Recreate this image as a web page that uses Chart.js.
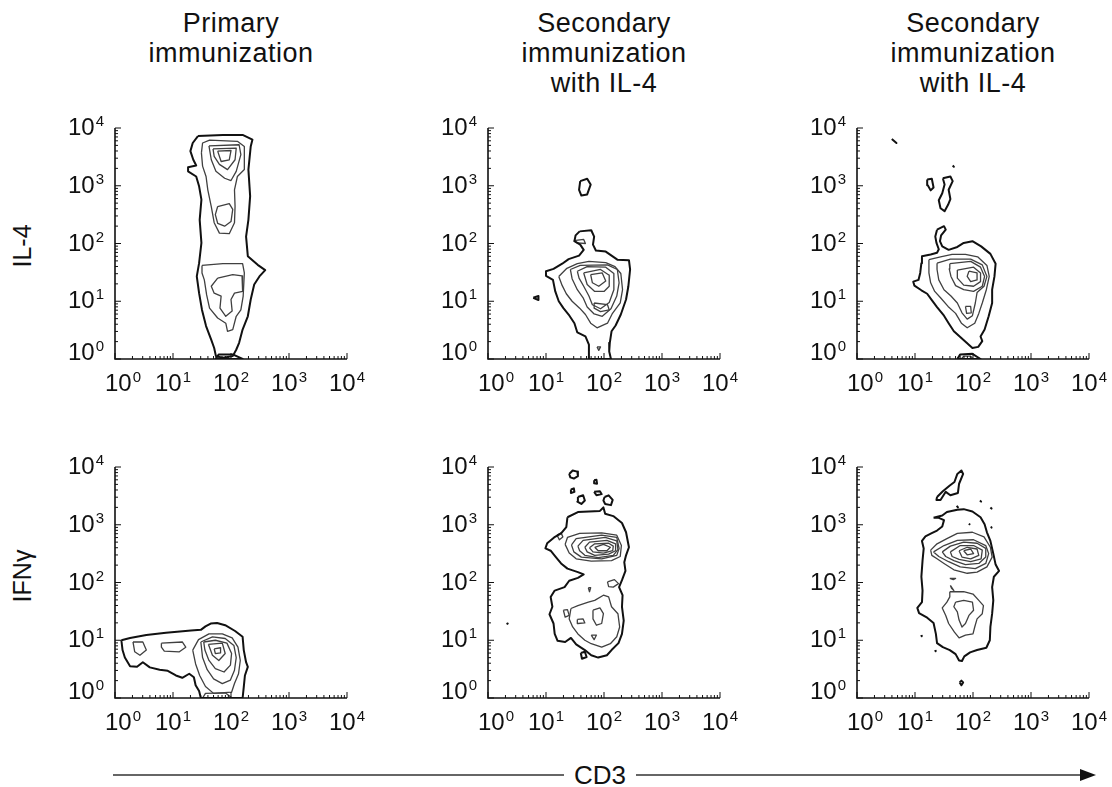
<!DOCTYPE html>
<html lang="en">
<head>
<meta charset="UTF-8" />
<title>CD3 vs IL-4 / IFNγ contour plots</title>
<script src="https://cdn.jsdelivr.net/npm/chart.js"></script>
<style>
  body { margin: 0; background: #fff; font-family: 'Liberation Sans', Arial, sans-serif; color: #111; }
  #fig { position: relative; width: 1112px; height: 787px; overflow: hidden; }
  #fig canvas { position: absolute; }
  .title { position: absolute; width: 280px; text-align: center; font-size: 27px; line-height: 30px; letter-spacing: 0.5px; }
  .rowlab { position: absolute; font-size: 25px; transform: translate(-50%, -50%) rotate(-90deg); white-space: nowrap; }
  #cd3 { position: absolute; left: 600px; top: 775px; transform: translate(-50%, -50%); font-size: 26px; background: #fff; padding: 0 10px; }
  svg { position: absolute; left: 0; top: 0; }
</style>
</head>
<body>
<div id="fig">
  <svg width="1112" height="787">
    <line x1="113" y1="775" x2="1082" y2="775" stroke="#333" stroke-width="1.6" />
    <polygon points="1096,775 1080,769 1080,781" fill="#111" />
  </svg>
  <div id="cd3">CD3</div>
</div>

<script>
  // axis decades (log10), the same on both axes of every panel
  const decades = [0, 1, 2, 3, 4];
  const titles = [['Primary', 'immunization'], ['Secondary', 'immunization', 'with IL-4'], ['Secondary', 'immunization', 'with IL-4']];
  const rowLabels = ['IL-4', 'IFNγ'];
  const xLabel = 'CD3';

  // contours as [log10 CD3, log10 cytokine] pairs
  const il4PrimaryOuter = [
    [[1.43,3.86],[1.86,3.88],[2.20,3.88],[2.37,3.80],[2.34,3.68],[2.30,3.28],[2.33,2.82],[2.30,2.41],[2.26,2.12],[2.29,1.78],[2.46,1.63],[2.59,1.54],[2.49,1.43],[2.40,1.29],[2.34,1.03],[2.29,0.74],[2.20,0.51],[2.14,0.28],[2.09,0.16],[2.03,0.05],[1.86,0.02],[1.74,0.05],[1.71,0.19],[1.66,0.33],[1.57,0.57],[1.50,0.85],[1.45,1.14],[1.41,1.43],[1.45,1.66],[1.49,2.01],[1.46,2.41],[1.49,2.76],[1.45,2.99],[1.40,3.16],[1.26,3.25],[1.26,3.32],[1.40,3.35],[1.35,3.45],[1.30,3.60],[1.34,3.74]],
    [[1.73,0],[1.79,0.08],[2.03,0.08],[2.20,0]]
  ];
  const il4PrimaryInner = [
    [[1.49,3.57],[1.51,3.74],[1.63,3.79],[2.11,3.77],[2.23,3.68],[2.23,3.28],[2.11,3.16],[2.06,2.93],[2.07,2.64],[2.06,2.36],[1.97,2.17],[1.80,2.18],[1.71,2.36],[1.66,2.64],[1.60,2.93],[1.57,3.16],[1.51,3.34]],
    [[1.50,1.62],[1.86,1.65],[2.20,1.65],[2.23,1.49],[2.21,1.09],[2.17,0.85],[2.09,0.74],[2.03,0.51],[1.94,0.48],[1.91,0.62],[1.77,0.71],[1.63,0.88],[1.58,1.11],[1.54,1.37],[1.50,1.49]],
    [[1.62,3.69],[2.14,3.71],[2.17,3.54],[2.09,3.25],[2.00,3.09],[1.89,3.13],[1.74,3.25],[1.66,3.45]],
    [[1.77,2.64],[1.97,2.69],[2.03,2.59],[2.00,2.38],[1.89,2.30],[1.77,2.35],[1.73,2.50]],
    [[1.77,1.40],[2.03,1.46],[2.19,1.44],[2.20,1.17],[2.06,1.14],[2.00,1.03],[2.02,0.83],[1.91,0.74],[1.81,0.88],[1.83,1.09],[1.71,1.14],[1.66,1.26]],
    [[1.69,3.64],[2.09,3.65],[2.07,3.45],[1.94,3.28],[1.80,3.37],[1.71,3.51]],
    [[1.77,3.60],[2.00,3.61],[1.97,3.45],[1.83,3.42]]
  ];

  const il4SecondaryOuter = [
    [[1.58,2.21],[1.78,2.23],[1.83,2.12],[1.81,1.98],[1.86,1.88],[2.03,1.86],[2.23,1.72],[2.43,1.71],[2.45,1.55],[2.42,1.26],[2.38,1.03],[2.29,0.77],[2.20,0.58],[2.13,0.48],[2.10,0.28],[2.09,0.13],[2.12,0],[1.74,0],[1.74,0.25],[1.68,0.39],[1.54,0.46],[1.49,0.62],[1.39,0.77],[1.30,0.88],[1.22,1.00],[1.16,1.17],[1.12,1.37],[1.00,1.44],[1.00,1.52],[1.13,1.56],[1.28,1.65],[1.39,1.73],[1.57,1.79],[1.65,1.89],[1.59,1.98],[1.49,2.04],[1.51,2.14]],
    [[1.59,3.08],[1.71,3.12],[1.77,3.02],[1.71,2.85],[1.61,2.83],[1.57,2.93]],
    [[0.78,1.06],[0.87,1.09],[0.87,1.02]]
  ];
  const il4SecondaryInner = [
    [[1.48,2.05],[1.65,2.07],[1.68,2.00],[1.54,2.01]],
    [[1.22,1.43],[1.36,1.57],[1.54,1.65],[1.74,1.69],[2.03,1.67],[2.19,1.60],[2.29,1.48],[2.32,1.20],[2.28,0.97],[2.14,0.78],[2.06,0.62],[1.88,0.54],[1.77,0.62],[1.68,0.77],[1.58,0.88],[1.45,1.00],[1.35,1.13],[1.28,1.27]],
    [[1.42,1.55],[1.59,1.62],[2.06,1.63],[2.23,1.55],[2.26,1.32],[2.22,1.09],[2.12,0.87],[1.97,0.74],[1.83,0.78],[1.71,0.90],[1.64,1.06],[1.54,1.20],[1.45,1.39]],
    [[1.54,1.52],[1.71,1.60],[2.03,1.59],[2.17,1.48],[2.17,1.20],[2.09,0.98],[1.94,0.87],[1.80,0.94],[1.74,1.09],[1.65,1.26],[1.57,1.40]],
    [[1.65,1.49],[1.94,1.55],[2.09,1.45],[2.09,1.26],[2.00,1.17],[1.84,1.17],[1.71,1.29]],
    [[1.77,1.46],[1.97,1.49],[2.03,1.35],[1.91,1.26],[1.80,1.32]],
    [[1.83,0.97],[2.06,0.94],[2.09,0.85],[1.94,0.82],[1.83,0.88]],
    [[1.88,0.21],[1.94,0.21],[1.91,0.15]]
  ];

  const il4RepeatOuter = [
    [[1.38,2.24],[1.50,2.30],[1.53,2.24],[1.45,2.14],[1.43,2.04],[1.47,1.95],[1.58,1.89],[1.73,1.94],[1.84,2.01],[1.99,2.04],[2.14,1.95],[2.30,1.82],[2.39,1.65],[2.37,1.43],[2.33,1.20],[2.33,0.97],[2.27,0.74],[2.20,0.51],[2.13,0.39],[2.16,0.31],[2.09,0.21],[1.99,0.19],[1.89,0.28],[1.78,0.38],[1.67,0.48],[1.58,0.62],[1.50,0.75],[1.38,0.90],[1.29,1.02],[1.21,1.13],[1.11,1.19],[0.99,1.27],[0.97,1.34],[1.06,1.37],[1.09,1.49],[1.11,1.66],[1.12,1.78],[1.27,1.81],[1.38,1.84],[1.41,1.90],[1.37,2.01],[1.35,2.12]],
    [[1.48,3.13],[1.61,3.16],[1.65,3.08],[1.58,2.93],[1.61,2.77],[1.57,2.67],[1.51,2.56],[1.44,2.61],[1.41,2.75],[1.47,2.87],[1.51,3.02]],
    [[1.21,3.11],[1.29,3.12],[1.32,2.97],[1.27,2.92],[1.22,3.01]],
    [[0.60,3.81],[0.68,3.74]],
    [[1.65,3.35],[1.67,3.33]],
    [[1.73,0],[1.78,0.08],[1.99,0.09],[2.13,0]]
  ];
  const il4RepeatInner = [
    [[1.24,1.72],[1.44,1.77],[1.64,1.81],[1.87,1.81],[2.08,1.77],[2.24,1.62],[2.28,1.43],[2.23,1.20],[2.16,0.97],[2.10,0.79],[2.03,0.62],[1.90,0.54],[1.80,0.62],[1.70,0.79],[1.57,0.91],[1.44,1.06],[1.34,1.17],[1.27,1.32],[1.24,1.49]],
    [[1.38,1.66],[1.61,1.73],[1.96,1.73],[2.16,1.63],[2.24,1.43],[2.19,1.26],[2.07,1.15],[2.04,0.97],[1.99,0.75],[1.90,0.69],[1.81,0.80],[1.73,0.97],[1.62,1.09],[1.50,1.20],[1.41,1.37],[1.38,1.55]],
    [[1.60,1.65],[1.96,1.69],[2.13,1.59],[2.20,1.43],[2.16,1.26],[2.01,1.17],[1.84,1.20],[1.70,1.27],[1.62,1.43],[1.59,1.56]],
    [[1.73,1.54],[2.01,1.59],[2.13,1.49],[2.13,1.34],[2.01,1.26],[1.84,1.28],[1.73,1.40]],
    [[1.93,1.52],[2.07,1.49],[2.07,1.37],[1.96,1.34],[1.90,1.43]],
    [[1.87,0.91],[1.96,0.91],[1.97,0.80],[1.89,0.79]],
    [[1.80,0],[1.84,0.05],[1.96,0.05],[2.00,0]]
  ];

  const ifnPrimaryOuter = [
    [[0.11,1.00],[0.26,1.04],[0.54,1.09],[0.88,1.13],[1.31,1.17],[1.48,1.18],[1.56,1.24],[1.65,1.29],[1.76,1.30],[1.90,1.26],[2.07,1.16],[2.20,1.06],[2.22,0.83],[2.26,0.62],[2.29,0.54],[2.24,0.39],[2.22,0.19],[2.20,0],[1.48,0],[1.45,0.12],[1.39,0.22],[1.36,0.36],[1.28,0.42],[1.16,0.35],[1.05,0.39],[0.91,0.47],[0.77,0.49],[0.60,0.53],[0.48,0.62],[0.38,0.54],[0.26,0.55],[0.17,0.70],[0.13,0.83]]
  ];
  const ifnPrimaryInner = [
    [[0.31,0.97],[0.48,0.97],[0.54,0.83],[0.43,0.74],[0.34,0.80]],
    [[0.80,0.95],[1.16,0.97],[1.22,0.88],[1.11,0.80],[0.85,0.81],[0.80,0.88]],
    [[1.34,0.83],[1.44,1.01],[1.62,1.11],[1.85,1.11],[2.02,1.04],[2.12,0.88],[2.16,0.65],[2.13,0.42],[2.06,0.25],[2.01,0.10],[1.70,0.08],[1.56,0.20],[1.46,0.39],[1.39,0.59]],
    [[1.48,0.97],[1.68,1.06],[1.90,1.03],[2.05,0.91],[2.09,0.70],[2.06,0.48],[1.99,0.31],[1.85,0.25],[1.70,0.33],[1.59,0.49],[1.51,0.70]],
    [[1.53,0.97],[1.73,1.00],[1.93,0.95],[2.01,0.77],[1.99,0.57],[1.88,0.45],[1.73,0.51],[1.62,0.65],[1.55,0.83]],
    [[1.61,0.93],[1.85,0.95],[1.90,0.77],[1.79,0.65],[1.68,0.74]],
    [[1.71,0.85],[1.82,0.87],[1.82,0.78],[1.73,0.77]],
    [[1.51,0],[1.56,0.08],[1.90,0.09],[2.02,0]]
  ];

  const ifnSecondaryOuter = [
    [[1.37,3.13],[1.55,3.22],[1.93,3.24],[1.99,3.30],[2.02,3.19],[2.16,3.15],[2.31,3.03],[2.38,2.87],[2.43,2.61],[2.38,2.47],[2.35,2.35],[2.37,2.20],[2.31,2.04],[2.26,1.92],[2.32,1.78],[2.31,1.58],[2.34,1.34],[2.31,1.11],[2.25,0.95],[2.13,0.83],[2.05,0.74],[1.90,0.70],[1.78,0.74],[1.67,0.83],[1.52,0.93],[1.43,1.04],[1.33,0.97],[1.20,0.99],[1.15,1.11],[1.13,1.29],[1.06,1.45],[1.11,1.58],[1.08,1.75],[1.15,1.86],[1.32,1.92],[1.40,2.03],[1.55,2.08],[1.65,2.14],[1.55,2.18],[1.37,2.24],[1.26,2.33],[1.17,2.44],[1.08,2.55],[0.99,2.59],[1.02,2.68],[1.14,2.78],[1.26,2.85],[1.35,2.96]],
    [[1.40,3.88],[1.46,3.94],[1.54,3.92],[1.55,3.84],[1.48,3.80],[1.42,3.82]],
    [[1.43,3.61],[1.48,3.63],[1.49,3.57],[1.43,3.55]],
    [[1.55,3.48],[1.64,3.51],[1.67,3.42],[1.61,3.36],[1.54,3.40]],
    [[1.83,3.77],[1.87,3.78],[1.88,3.71],[1.83,3.72]],
    [[1.83,3.57],[1.93,3.58],[1.96,3.53],[1.87,3.51]],
    [[2.01,3.48],[2.08,3.51],[2.15,3.43],[2.12,3.34],[2.02,3.36],[1.99,3.42]],
    [[1.60,0.78],[1.67,0.80],[1.70,0.71],[1.62,0.68]],
    [[0.32,1.28],[0.34,1.29]]
  ];
  const ifnSecondaryInner = [
    [[1.33,2.66],[1.37,2.78],[1.58,2.85],[1.96,2.86],[2.22,2.82],[2.30,2.64],[2.28,2.45],[2.13,2.38],[1.78,2.37],[1.52,2.41],[1.40,2.51]],
    [[1.44,2.65],[1.52,2.76],[1.96,2.82],[2.22,2.78],[2.26,2.59],[2.22,2.47],[1.96,2.41],[1.61,2.44],[1.48,2.53]],
    [[1.55,2.63],[1.64,2.73],[2.02,2.78],[2.22,2.72],[2.24,2.57],[2.16,2.47],[1.90,2.43],[1.67,2.47],[1.58,2.55]],
    [[1.67,2.61],[1.75,2.70],[2.05,2.73],[2.20,2.67],[2.20,2.55],[2.08,2.49],[1.84,2.47],[1.71,2.53]],
    [[1.75,2.60],[1.84,2.67],[2.08,2.68],[2.16,2.63],[2.15,2.55],[1.99,2.51],[1.81,2.53]],
    [[1.84,2.61],[1.99,2.66],[2.11,2.61],[2.05,2.55],[1.90,2.55]],
    [[1.19,2.82],[1.26,2.86],[1.29,2.79],[1.23,2.74]],
    [[1.43,1.55],[1.55,1.60],[1.73,1.66],[1.84,1.69],[1.99,1.78],[2.08,1.75],[2.13,1.58],[2.24,1.46],[2.27,1.23],[2.22,1.06],[2.11,0.94],[1.96,0.88],[1.78,0.94],[1.67,1.00],[1.55,1.11],[1.46,1.23],[1.40,1.37]],
    [[1.81,1.52],[1.93,1.56],[1.99,1.46],[1.96,1.29],[1.87,1.26],[1.81,1.37]],
    [[1.30,1.52],[1.37,1.53],[1.40,1.43],[1.33,1.40]],
    [[1.54,1.36],[1.64,1.37],[1.67,1.30],[1.55,1.29]],
    [[1.78,1.09],[1.87,1.09],[1.83,1.01]],
    [[1.73,1.91],[1.77,1.91],[1.75,1.84]],
    [[2.06,2.01],[2.18,2.05],[2.25,1.98],[2.16,1.92],[2.08,1.93]]
  ];

  const ifnRepeatOuter = [
    [[1.32,3.12],[1.47,3.16],[1.55,3.22],[1.73,3.26],[1.84,3.27],[1.99,3.23],[2.13,3.13],[2.20,3.01],[2.24,2.87],[2.30,2.72],[2.35,2.50],[2.39,2.31],[2.45,2.20],[2.36,2.10],[2.33,1.92],[2.35,1.69],[2.33,1.46],[2.30,1.23],[2.29,1.00],[2.23,0.87],[2.07,0.83],[1.95,0.79],[1.85,0.72],[1.81,0.64],[1.76,0.65],[1.70,0.76],[1.60,0.83],[1.48,0.88],[1.38,0.95],[1.36,1.11],[1.32,1.30],[1.21,1.39],[1.07,1.47],[1.04,1.56],[1.12,1.66],[1.13,1.86],[1.11,2.10],[1.13,2.38],[1.15,2.59],[1.12,2.72],[1.18,2.80],[1.28,2.85],[1.38,2.90],[1.47,2.97],[1.50,3.08],[1.41,3.12]],
    [[1.38,3.48],[1.48,3.58],[1.60,3.68],[1.68,3.74],[1.73,3.88],[1.80,3.94],[1.83,3.88],[1.76,3.71],[1.74,3.55],[1.61,3.51],[1.53,3.57],[1.44,3.43],[1.37,3.43]],
    [[2.12,3.42],[2.14,3.40]],
    [[2.30,3.30],[2.32,3.28]],
    [[2.31,2.97],[2.32,2.95]],
    [[1.93,3.02],[1.94,3.01]],
    [[1.72,3.33],[1.74,3.30]],
    [[1.11,1.09],[1.12,1.07]],
    [[1.35,0.83],[1.36,0.81]],
    [[1.77,0.27],[1.80,0.30],[1.83,0.27],[1.80,0.22]]
  ];
  const ifnRepeatInner = [
    [[1.27,2.56],[1.38,2.67],[1.55,2.76],[1.73,2.85],[1.99,2.87],[2.19,2.79],[2.30,2.61],[2.33,2.44],[2.24,2.27],[2.07,2.18],[1.90,2.16],[1.67,2.22],[1.50,2.33],[1.38,2.41],[1.29,2.47]],
    [[1.32,2.53],[1.50,2.64],[1.73,2.73],[2.01,2.74],[2.22,2.64],[2.27,2.50],[2.22,2.33],[2.04,2.24],[1.78,2.27],[1.58,2.36],[1.41,2.45]],
    [[1.47,2.53],[1.61,2.63],[1.84,2.70],[2.07,2.68],[2.22,2.59],[2.22,2.44],[2.10,2.33],[1.87,2.31],[1.67,2.38],[1.53,2.45]],
    [[1.61,2.53],[1.78,2.64],[2.01,2.64],[2.16,2.56],[2.14,2.41],[1.96,2.36],[1.76,2.40],[1.64,2.45]],
    [[1.76,2.55],[1.90,2.61],[2.07,2.58],[2.10,2.47],[1.96,2.41],[1.81,2.44]],
    [[1.84,2.55],[1.96,2.58],[2.01,2.50],[1.90,2.48]],
    [[1.60,1.84],[1.84,1.84],[2.00,1.80],[2.10,1.69],[2.18,1.60],[2.16,1.46],[2.07,1.37],[2.03,1.23],[2.00,1.11],[1.87,1.09],[1.76,1.04],[1.68,1.14],[1.58,1.29],[1.53,1.43],[1.47,1.56],[1.55,1.66],[1.60,1.75]],
    [[1.70,1.66],[1.84,1.69],[1.99,1.66],[2.01,1.52],[1.93,1.43],[1.87,1.29],[1.81,1.23],[1.76,1.35],[1.73,1.49],[1.67,1.58]],
    [[1.60,2.07],[1.70,2.07],[1.66,2.05]],
    [[1.61,1.95],[1.67,1.86],[1.63,1.90]]
  ];

  // where each panel's plot box sits on the page
  const PLOT_W = 232, PLOT_H = 231;
  const PAD = { left: 72, top: 20, right: 22, bottom: 45 };
  const panels = [
    { left: 115, top: 128, outer: il4PrimaryOuter, inner: il4PrimaryInner },
    { left: 488, top: 128, outer: il4SecondaryOuter, inner: il4SecondaryInner },
    { left: 857, top: 128, outer: il4RepeatOuter, inner: il4RepeatInner },
    { left: 115, top: 467, outer: ifnPrimaryOuter, inner: ifnPrimaryInner },
    { left: 488, top: 467, outer: ifnSecondaryOuter, inner: ifnSecondaryInner },
    { left: 857, top: 467, outer: ifnRepeatOuter, inner: ifnRepeatInner }
  ];

  const fig = document.getElementById('fig');

  function toPoints(contour) {
    return contour.concat([contour[0]]).map(p => ({ x: Math.pow(10, p[0]), y: Math.pow(10, p[1]) }));
  }

  const BIG = '24px "Liberation Sans", Arial, sans-serif';
  const SMALL = '15px "Liberation Sans", Arial, sans-serif';

  function drawPower(ctx, exp, x, baseline, align) {
    ctx.font = BIG;
    const w10 = ctx.measureText('10').width;
    ctx.font = SMALL;
    const wExp = ctx.measureText(String(exp)).width;
    const total = w10 + 1 + wExp;
    const start = align === 'right' ? x - total : x - total / 2;
    ctx.textAlign = 'left';
    ctx.textBaseline = 'alphabetic';
    ctx.font = BIG;
    ctx.fillText('10', start, baseline);
    ctx.font = SMALL;
    ctx.fillText(String(exp), start + w10 + 1, baseline - 9);
  }

  // axes with inward log ticks and 10^n labels
  const logAxes = {
    id: 'logAxes',
    afterDraw(chart) {
      const { ctx, chartArea: a, scales: { x, y } } = chart;
      ctx.save();
      ctx.strokeStyle = '#111';
      ctx.fillStyle = '#111';
      ctx.lineWidth = 1;
      for (let i = 0; i < decades.length; i++) {
        const k = decades[i];
        const steps = i < decades.length - 1 ? [1, 2, 3, 4, 5, 6, 7, 8, 9] : [1];
        steps.forEach(d => {
          const v = d * Math.pow(10, k);
          const len = d === 1 ? 6 : 3;
          const py = y.getPixelForValue(v);
          const px = x.getPixelForValue(v);
          ctx.beginPath();
          ctx.moveTo(a.left, py); ctx.lineTo(a.left + len, py);
          ctx.moveTo(px, a.bottom); ctx.lineTo(px, a.bottom - len);
          ctx.stroke();
        });
      }
      ctx.lineWidth = 1.6;
      ctx.beginPath();
      ctx.moveTo(a.left, a.top);
      ctx.lineTo(a.left, a.bottom);
      ctx.lineTo(a.right, a.bottom);
      ctx.stroke();

      decades.forEach(k => {
        const v = Math.pow(10, k);
        const py = y.getPixelForValue(v);
        drawPower(ctx, k, a.left - 11, k === 0 ? py + 1 : py + 7, 'right');
        const px = x.getPixelForValue(v);
        drawPower(ctx, k, k === 0 ? px + 8 : px, a.bottom + 32, 'center');
      });
      ctx.restore();
    }
  };

  panels.forEach(p => {
    const canvas = document.createElement('canvas');
    const w = PAD.left + PLOT_W + PAD.right;
    const h = PAD.top + PLOT_H + PAD.bottom;
    canvas.width = w; canvas.height = h;
    canvas.style.left = (p.left - PAD.left) + 'px';
    canvas.style.top = (p.top - PAD.top) + 'px';
    canvas.style.width = w + 'px'; canvas.style.height = h + 'px';
    fig.appendChild(canvas);

    const datasets = p.outer.map(c => ({
      data: toPoints(c), showLine: true, borderColor: '#111', borderWidth: 2,
      pointRadius: 0, borderJoinStyle: 'round', fill: false
    })).concat(p.inner.map(c => ({
      data: toPoints(c), showLine: true, borderColor: '#404040', borderWidth: 1.3,
      pointRadius: 0, borderJoinStyle: 'round', fill: false
    })));

    new Chart(canvas, {
      type: 'scatter',
      data: { datasets },
      options: {
        responsive: false,
        devicePixelRatio: 1,
        animation: false,
        layout: { padding: PAD },
        plugins: { legend: { display: false }, tooltip: { enabled: false } },
        scales: {
          x: { type: 'logarithmic', min: 1, max: 10000, display: false },
          y: { type: 'logarithmic', min: 1, max: 10000, display: false }
        }
      },
      plugins: [logAxes]
    });
  });

  // column titles, row labels, shared x label
  const centers = [231, 604, 973];
  titles.forEach((lines, i) => {
    const d = document.createElement('div');
    d.className = 'title';
    d.style.left = (centers[i] - 140) + 'px';
    d.style.top = '8px';
    d.innerHTML = lines.join('<br>');
    fig.appendChild(d);
  });
  [246, 576].forEach((cy, i) => {
    const d = document.createElement('div');
    d.className = 'rowlab';
    d.style.left = '22px';
    d.style.top = cy + 'px';
    d.textContent = rowLabels[i];
    fig.appendChild(d);
  });
  document.getElementById('cd3').textContent = xLabel;
</script>
</body>
</html>
